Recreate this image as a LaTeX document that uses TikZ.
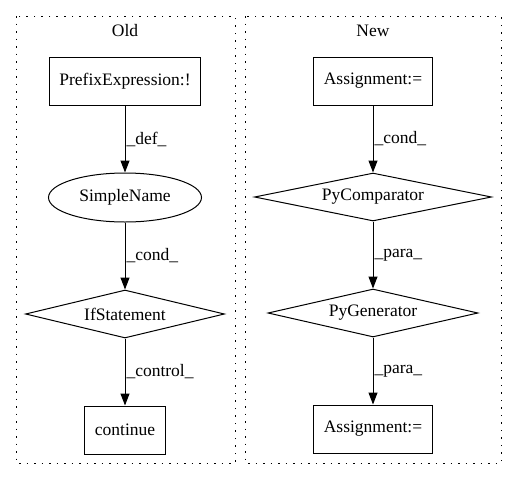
\documentclass[tikz,border=0pt]{standalone}
\usepackage{fontspec}
\setmainfont{Liberation Serif}
\usetikzlibrary{shapes.geometric,arrows.meta,positioning}

\begin{document}
\begin{tikzpicture}[
    x=1pt, y=-1pt,
    font=\fontsize{17.5}{20}\selectfont,
    every node/.style={line width=1pt},
    stmt/.style={rectangle, draw, minimum height=48pt, inner xsep=10pt},
    ident/.style={ellipse, draw, minimum width=153pt, minimum height=49pt, inner sep=0pt},
    decision/.style={diamond, draw, minimum height=48pt, inner sep=0pt},
    arrow/.style={-{Triangle[length=12pt,width=9pt]}, line width=1pt},
    lbl/.style={right, inner sep=1pt, pos=0.5},
    cluster/.style={line width=1pt, dash pattern=on 1.5pt off 6pt},
    node distance=67pt
]
    \useasboundingbox (0,0) rectangle (517,480);

    % Clusters
    \draw[cluster] (16,16) rectangle (235,463);
    \draw[cluster] (245,16) rectangle (501,463);
    \node (oldtitle) at (125,31) {Old};
    \node (newtitle) at (373,31) {New};

    % Old
    \node[stmt] (prefix) at (125,81) {PrefixExpression:!};
    \node[ident, below=of prefix] (simplename) {SimpleName};
    \node[decision, aspect=4.15, minimum width=199pt, below=of simplename] (ifstmt) {IfStatement};
    \node[stmt, below=of ifstmt] (cont) {continue};

    \draw[arrow] (prefix) -- node[lbl] {\_def\_} (simplename);
    \draw[arrow] (simplename) -- node[lbl] {\_cond\_} (ifstmt);
    \draw[arrow] (ifstmt) -- node[lbl] {\_control\_} (cont);

    % New
    \node[stmt] (assign) at (373,81) {Assignment:=};
    \node[decision, aspect=4.94, minimum width=237pt, below=of assign] (pycomp) {PyComparator};
    \node[decision, aspect=4.38, minimum width=210pt, below=of pycomp] (pygen) {PyGenerator};
    \node[stmt, below=of pygen] (assign2) {Assignment:=};

    \draw[arrow] (assign) -- node[lbl] {\_cond\_} (pycomp);
    \draw[arrow] (pycomp) -- node[lbl] {\_para\_} (pygen);
    \draw[arrow] (pygen) -- node[lbl] {\_para\_} (assign2);

\end{tikzpicture}
\end{document}
